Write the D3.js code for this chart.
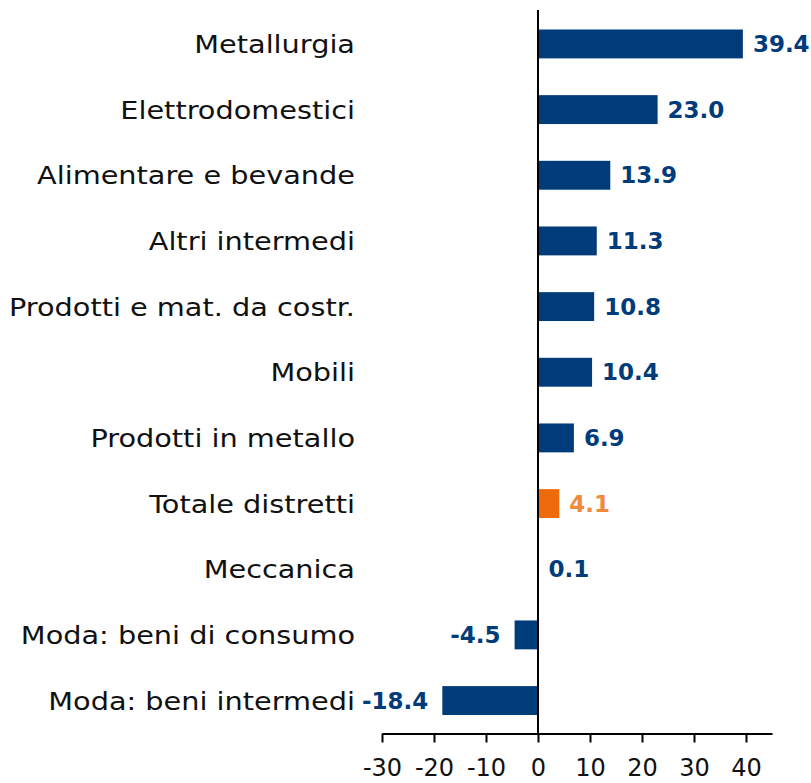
<!DOCTYPE html>
<html>
<head>
<meta charset="utf-8">
<script src="https://cdn.jsdelivr.net/npm/d3@7"></script>
<style>
  body { margin: 0; background: #fff; }
  svg { display: block; font-family: 'DejaVu Sans', sans-serif; }
</style>
</head>
<body>
<script>
// categories top to bottom, and their values (% change)
const categories = [
  'Metallurgia', 'Elettrodomestici', 'Alimentare e bevande', 'Altri intermedi',
  'Prodotti e mat. da costr.', 'Mobili', 'Prodotti in metallo', 'Totale distretti',
  'Meccanica', 'Moda: beni di consumo', 'Moda: beni intermedi'
];
const values = [39.4, 23.0, 13.9, 11.3, 10.8, 10.4, 6.9, 4.1, 0.1, -4.5, -18.4];
const highlight = 'Totale distretti';
const tickValues = [-30, -20, -10, 0, 10, 20, 30, 40];

const data = categories.map((c, i) => ({cat: c, val: values[i]}));

const width = 811, height = 783;
const blue = '#003B7A', orange = '#EE6A0C', orangeText = '#F08A3E';

const svg = d3.select('body').append('svg')
  .attr('width', width)
  .attr('height', height);

const x = d3.scaleLinear().domain([-30, 45]).range([382, 772]);
const y = d3.scaleBand().domain(categories).range([29.5, 715])
  .paddingInner(0.56).paddingOuter(0);
const axisY = 733.5;

// bars
svg.selectAll('.bar')
  .data(data)
  .enter().append('rect')
    .attr('class', 'bar')
    .attr('x', d => x(Math.min(0, d.val)))
    .attr('width', d => Math.abs(x(d.val) - x(0)))
    .attr('y', d => y(d.cat))
    .attr('height', y.bandwidth())
    .style('fill', d => d.cat === highlight ? orange : blue);

// value labels (plain hyphen for negatives, like the original)
svg.selectAll('.val')
  .data(data)
  .enter().append('text')
    .attr('class', 'val')
    .attr('x', d => d.val >= 0 ? x(d.val) + 10 : x(d.val) - 14)
    .attr('y', d => y(d.cat) + y.bandwidth() / 2 + 8)
    .attr('text-anchor', d => d.val >= 0 ? 'start' : 'end')
    .style('font-size', '23px')
    .style('font-weight', 'bold')
    .style('fill', d => d.cat === highlight ? orangeText : blue)
    .text(d => d.val.toFixed(1));

// category labels, stretched a bit to mimic the wide original face
svg.selectAll('.cat')
  .data(data)
  .enter().append('text')
    .attr('class', 'cat')
    .attr('transform', d => `translate(355,${y(d.cat) + y.bandwidth() / 2 + 9}) scale(1.15,1)`)
    .attr('text-anchor', 'end')
    .style('font-size', '25px')
    .style('fill', '#111')
    .text(d => d.cat);

// zero line
svg.append('line')
  .attr('x1', x(0)).attr('x2', x(0))
  .attr('y1', 10).attr('y2', axisY)
  .style('stroke', '#000')
  .style('stroke-width', 2);

// x axis
const axis = svg.append('g')
  .attr('transform', `translate(0,${axisY})`)
  .call(d3.axisBottom(x).tickValues(tickValues).tickFormat(d => String(d))
    .tickSize(9).tickPadding(16).tickSizeOuter(0));
axis.select('.domain').style('stroke-width', 2);
axis.selectAll('.tick line').style('stroke-width', 2);
axis.selectAll('.tick text')
  .style('font-size', '24px')
  .style('font-family', 'DejaVu Sans, sans-serif')
  .style('fill', '#111');
</script>
</body>
</html>
